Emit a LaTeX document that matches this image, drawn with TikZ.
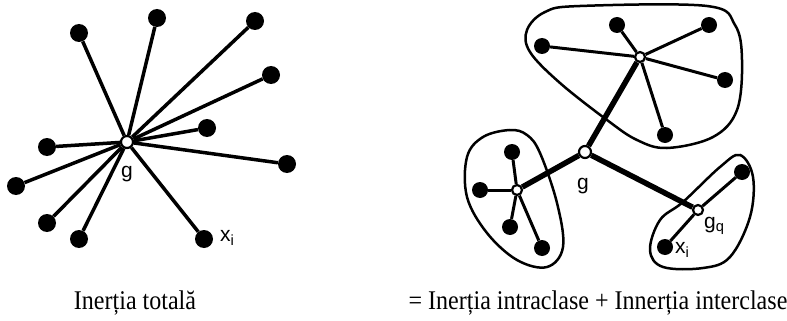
\documentclass[tikz,border=0pt]{standalone}
\usepackage{fontspec}
\setmainfont{Liberation Serif}
\newfontfamily\lblfont{Liberation Sans}
\usepackage{graphicx}

\tikzset{
  pt/.style={circle, fill=black, inner sep=0pt, minimum size=18pt},
  spt/.style={circle, fill=black, inner sep=0pt, minimum size=16pt},
  ctr/.style={circle, draw, fill=white, inner sep=0pt, minimum size=12pt, line width=2.2pt},
  ray/.style={line width=3.5pt},
  bond/.style={line width=5.5pt},
  hull/.style={line width=2.5pt},
  lbl/.style={font=\lblfont\fontsize{21}{21}\selectfont, inner sep=0pt},
  caption/.style={font=\fontsize{27}{29}\selectfont, inner sep=0pt},
}

\begin{document}
\begin{tikzpicture}[x=1pt, y=-1pt]
  \useasboundingbox (0,0) rectangle (787,321);

  % total inertia
  \node[ctr] (g) at (127,142) {};
  \foreach \n/\x/\y in {a/79/33, b/157/18, c/255/21, d/271/75, e/207/128,
                        f/287/164, h/47/147, k/16/186, l/47/223, m/79/239, xi/204/239}
  {
    \node[pt] (\n) at (\x,\y) {};
    \draw[ray] (g) -- (\n);
  }
  \node[lbl] (glbl) at (127,174) {g};
  \node[lbl, anchor=west] (xilbl) at (220,238) {x\textsubscript{i}};

  % classes
  \draw[hull] plot[smooth cycle, tension=0.6] coordinates {
    (527,30) (545,12) (580,6) (707,6) (735,25) (742,60) (737,110) (713,137)
    (667,148) (637,140) (607,120) (560,83) (530,52)};
  \draw[hull] plot[smooth cycle, tension=0.6] coordinates {
    (510,130) (527,135) (540,153) (557,203) (563,247) (547,267) (517,260)
    (487,233) (467,197) (467,157) (483,137)};
  \draw[hull] plot[smooth cycle, tension=0.6] coordinates {
    (740,155) (753,177) (750,217) (730,257) (703,268) (663,267) (650,250)
    (660,220) (683,202) (720,167)};

  \node[ctr] (G) at (585,152) {};
  \node[ctr, minimum size=10pt] (g1) at (640,57) {};
  \node[ctr, minimum size=10pt] (g2) at (517,190) {};
  \node[ctr, minimum size=10pt] (gq) at (698,210) {};
  \foreach \c in {g1, g2, gq}
    \draw[bond] (G) -- (\c);

  \foreach \n/\x/\y/\c in {p1/542/46/g1, p2/617/25/g1, p3/709/25/g1, p4/725/80/g1,
                           p5/665/135/g1, q1/512/152/g2, q2/480/190/g2, q3/510/227/g2,
                           q4/542/248/g2, r1/742/172/gq, r2/665/247/gq}
  {
    \node[spt] (\n) at (\x,\y) {};
    \draw[ray, line width=3pt] (\c) -- (\n);
  }
  \node[lbl] (Glbl) at (583,186) {g};
  \node[lbl, anchor=west] (gqlbl) at (704,226) {g\textsubscript{q}};
  \node[lbl, anchor=west] (rilbl) at (675,250) {x\textsubscript{i}};

  % captions
  \node[caption] (tot) at (135,303) {\scalebox{0.89}[1]{Inerția totală}};
  \node[caption] (sum) at (598,303)
    {\scalebox{0.89}[1]{= Inerția intraclase + Innerția interclase}};
\end{tikzpicture}
\end{document}
